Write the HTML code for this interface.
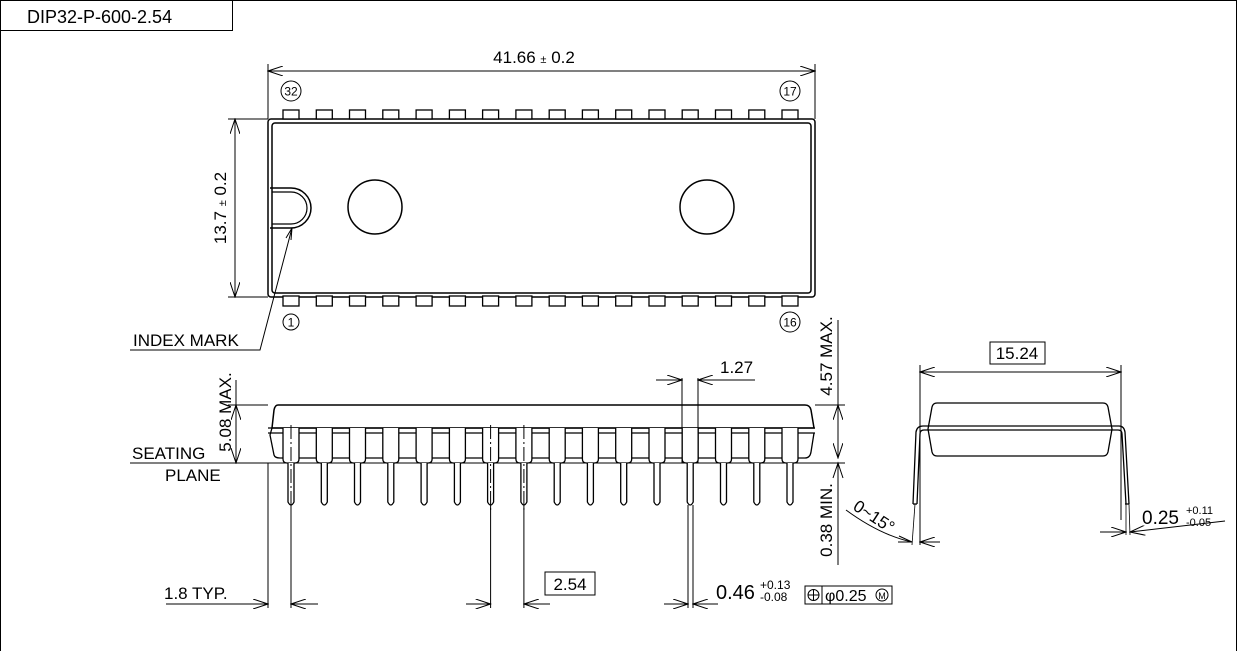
<!DOCTYPE html>
<html><head><meta charset="utf-8"><style>
html,body{margin:0;padding:0;background:#fff}
svg{display:block}
text{font-family:"Liberation Sans",sans-serif;fill:#000}
</style></head><body>
<svg width="1237" height="651" viewBox="0 0 1237 651" xmlns="http://www.w3.org/2000/svg">
<defs>
<marker id="a" markerWidth="16" markerHeight="10" refX="15" refY="5" orient="auto-start-reverse" markerUnits="userSpaceOnUse"><path d="M0,0 L15,5 L0,10" fill="none" stroke="#000" stroke-width="1"/></marker>
<g id="tp"><rect x="-8" y="110" width="16" height="9" fill="#fff" stroke="#000" stroke-width="1.3"/></g>
<g id="bp"><rect x="-8" y="296" width="16" height="10" fill="#fff" stroke="#000" stroke-width="1.3"/></g>
<g id="sp"><path d="M-8,428 V459 Q-8,463 -4,463 H4 Q8,463 8,459 V428" fill="#fff" stroke="#000" stroke-width="1.3"/><path d="M-3,463 V502 Q0,508 3,502 V463" fill="#fff" stroke="#000" stroke-width="1.3"/></g>
</defs>
<rect x="0.5" y="0.5" width="1236" height="660" fill="none" stroke="#000" stroke-width="1"/>
<path d="M0,30.5 H232.5 V0" fill="none" stroke="#000" stroke-width="1"/>
<text x="27" y="23" font-size="18">DIP32-P-600-2.54</text>

<g fill="none" stroke="#000">
<line x1="268" y1="64" x2="268" y2="119" stroke-width="1"/>
<line x1="815" y1="64" x2="815" y2="119" stroke-width="1"/>
<line x1="268" y1="71" x2="815" y2="71" stroke-width="1" marker-start="url(#a)" marker-end="url(#a)"/>
<line x1="228" y1="119" x2="268" y2="119" stroke-width="1"/>
<line x1="228" y1="297" x2="268" y2="297" stroke-width="1"/>
<line x1="235" y1="119" x2="235" y2="297" stroke-width="1" marker-start="url(#a)" marker-end="url(#a)"/>
<rect x="268" y="119" width="547" height="178" rx="3" stroke-width="1.5"/>
<rect x="272" y="123" width="539" height="170" rx="3" stroke-width="1.5"/>
<path d="M270,188 H291 A20,20 0 0 1 291,228 H270" stroke-width="1.5"/>
<path d="M272,192 H291 A16,16 0 0 1 291,224 H272" stroke-width="1.2"/>
<circle cx="375" cy="207" r="27" stroke-width="1.5"/>
<circle cx="707" cy="207" r="27" stroke-width="1.5"/>
<path d="M292,228 L260,350 H130" stroke-width="1"/>
<path d="M292,228 l-1,12 M292,228 l-6,10" stroke-width="1"/>
<circle cx="291" cy="91" r="10" stroke-width="1"/>
<circle cx="790" cy="91" r="10" stroke-width="1"/>
<circle cx="291" cy="322" r="8" stroke-width="1"/>
<circle cx="790" cy="322" r="10" stroke-width="1"/>
</g>
<g>
<use href="#tp" x="291"/><use href="#tp" x="324.3"/><use href="#tp" x="357.5"/><use href="#tp" x="390.8"/><use href="#tp" x="424.1"/><use href="#tp" x="457.4"/><use href="#tp" x="490.6"/><use href="#tp" x="523.9"/><use href="#tp" x="557.2"/><use href="#tp" x="590.4"/><use href="#tp" x="623.7"/><use href="#tp" x="657"/><use href="#tp" x="690.2"/><use href="#tp" x="723.5"/><use href="#tp" x="756.8"/><use href="#tp" x="790"/>
<use href="#bp" x="291"/><use href="#bp" x="324.3"/><use href="#bp" x="357.5"/><use href="#bp" x="390.8"/><use href="#bp" x="424.1"/><use href="#bp" x="457.4"/><use href="#bp" x="490.6"/><use href="#bp" x="523.9"/><use href="#bp" x="557.2"/><use href="#bp" x="590.4"/><use href="#bp" x="623.7"/><use href="#bp" x="657"/><use href="#bp" x="690.2"/><use href="#bp" x="723.5"/><use href="#bp" x="756.8"/><use href="#bp" x="790"/>
</g>
<text x="534" y="63" font-size="17" text-anchor="middle">41.66 <tspan font-size="11">±</tspan> 0.2</text>
<text transform="translate(226,208) rotate(-90)" font-size="17" text-anchor="middle">13.7 <tspan font-size="11">±</tspan> 0.2</text>
<text x="291" y="95.5" font-size="12" text-anchor="middle">32</text>
<text x="790" y="95.5" font-size="12" text-anchor="middle">17</text>
<text x="291" y="326.5" font-size="12" text-anchor="middle">1</text>
<text x="790" y="326.5" font-size="12" text-anchor="middle">16</text>
<text x="133" y="346" font-size="17">INDEX MARK</text>

<g fill="none" stroke="#000">
<path d="M278,405 H805 Q810,405 811,410 L814,428 H272 L274,410 Q275,405 278,405 Z" fill="#fff" stroke-width="1.5"/>
<path d="M268,428 H815 M268,433 H815" stroke-width="1.3"/>
<path d="M272,428 L270,435 L274,455 Q275,458 280,458 H805 Q810,458 811,452 L814,433" stroke-width="1.3"/>
<line x1="130" y1="463" x2="845" y2="463" stroke-width="1"/>
<line x1="228" y1="405" x2="268" y2="405" stroke-width="1"/>
<line x1="236" y1="380" x2="236" y2="405" stroke-width="1"/>
<line x1="236" y1="405" x2="236" y2="463" stroke-width="1" marker-start="url(#a)" marker-end="url(#a)"/>
<line x1="815" y1="405" x2="845" y2="405" stroke-width="1"/>
<line x1="838" y1="405" x2="838" y2="458" stroke-width="1" marker-start="url(#a)" marker-end="url(#a)"/>
<line x1="838" y1="320" x2="838" y2="405" stroke-width="1"/>
<line x1="838" y1="463" x2="838" y2="565" stroke-width="1"/>
<path d="M833,478 L838,463 L843,478" stroke-width="1"/>
</g>
<g>
<use href="#sp" x="291"/><use href="#sp" x="324.3"/><use href="#sp" x="357.5"/><use href="#sp" x="390.8"/><use href="#sp" x="424.1"/><use href="#sp" x="457.4"/><use href="#sp" x="490.6"/><use href="#sp" x="523.9"/><use href="#sp" x="557.2"/><use href="#sp" x="590.4"/><use href="#sp" x="623.7"/><use href="#sp" x="657"/><use href="#sp" x="690.2"/><use href="#sp" x="723.5"/><use href="#sp" x="756.8"/><use href="#sp" x="790"/>
</g>
<g fill="none" stroke="#000" stroke-width="1">
<line x1="291" y1="425" x2="291" y2="512" stroke-dasharray="14,3,2,3"/>
<line x1="490.6" y1="425" x2="490.6" y2="512" stroke-dasharray="14,3,2,3"/>
<line x1="523.9" y1="425" x2="523.9" y2="512" stroke-dasharray="14,3,2,3"/>
<line x1="682" y1="378" x2="682" y2="463"/>
<line x1="698" y1="378" x2="698" y2="463"/>
<line x1="656" y1="380" x2="682" y2="380" marker-end="url(#a)"/>
<line x1="755" y1="380" x2="698" y2="380" marker-end="url(#a)"/>
<line x1="268" y1="463" x2="268" y2="608"/>
<line x1="291" y1="505" x2="291" y2="608"/>
<line x1="166" y1="604" x2="268" y2="604" marker-end="url(#a)"/>
<line x1="318" y1="604" x2="291" y2="604" marker-end="url(#a)"/>
<line x1="490.6" y1="505" x2="490.6" y2="608"/>
<line x1="523.9" y1="505" x2="523.9" y2="608"/>
<line x1="466" y1="604" x2="490.6" y2="604" marker-end="url(#a)"/>
<line x1="550" y1="604" x2="523.9" y2="604" marker-end="url(#a)"/>
<line x1="688" y1="505" x2="688" y2="608"/>
<line x1="693" y1="505" x2="693" y2="608"/>
<line x1="664" y1="604" x2="688" y2="604" marker-end="url(#a)"/>
<line x1="718" y1="604" x2="693" y2="604" marker-end="url(#a)"/>
<rect x="545" y="572" width="50" height="23"/>
<rect x="805" y="586" width="87" height="18"/>
<line x1="822" y1="586" x2="822" y2="604"/>
<circle cx="813.5" cy="595" r="5.5"/>
<path d="M808,595 H819 M813.5,589.5 V600.5"/>
<circle cx="882" cy="595" r="6"/>
</g>
<text transform="translate(231,412) rotate(-90)" font-size="17" text-anchor="middle">5.08 MAX.</text>
<text transform="translate(832,356) rotate(-90)" font-size="17" text-anchor="middle">4.57 MAX.</text>
<text transform="translate(832,520) rotate(-90)" font-size="17" text-anchor="middle">0.38 MIN.</text>
<text x="132" y="459" font-size="17">SEATING</text>
<text x="165" y="481" font-size="17">PLANE</text>
<text x="720" y="373" font-size="17">1.27</text>
<line x1="715" y1="380" x2="755" y2="380" stroke="#000"/>
<text x="164" y="599" font-size="17">1.8 TYP.</text>
<text x="570" y="590" font-size="17" text-anchor="middle">2.54</text>
<text x="716" y="599" font-size="20">0.46</text>
<text x="760" y="589" font-size="12">+0.13</text>
<text x="760" y="601" font-size="12">-0.08</text>
<text x="825" y="601" font-size="16">φ0.25</text>
<text x="882" y="599" font-size="9" text-anchor="middle">M</text>

<g fill="none" stroke="#000">
<line x1="920" y1="365" x2="920" y2="545" stroke-width="1"/>
<line x1="1121" y1="365" x2="1121" y2="520" stroke-width="1"/>
<line x1="920" y1="372" x2="1121" y2="372" stroke-width="1" marker-start="url(#a)" marker-end="url(#a)"/>
<rect x="990" y="342" width="55" height="22" stroke-width="1"/>
<path d="M937,403 H1103 Q1107,403 1108,407 L1112,429 L1108,452 Q1107,456 1103,456 H937 Q933,456 932,452 L928,429 L932,407 Q933,403 937,403 Z" stroke-width="1.3"/>
<path d="M917,504 L920,434 Q920,430 924,430 H1118 Q1122,430 1122,434 L1126,504" stroke-width="1.3"/>
<path d="M913,504 L916,432 Q917,426 923,426 H1119 Q1124,426 1125,432 L1129,504" stroke-width="1.3"/>
<line x1="913" y1="504" x2="917" y2="504" stroke-width="1.3"/>
<line x1="1125" y1="504" x2="1129" y2="504" stroke-width="1.3"/>
<line x1="915" y1="504" x2="912" y2="545" stroke-width="0.8"/>
<line x1="1126" y1="504" x2="1126" y2="535" stroke-width="0.8"/>
<line x1="1129" y1="504" x2="1130" y2="535" stroke-width="0.8"/>
<path d="M846,510 Q880,535 912,542" stroke-width="1"/>
<path d="M899,536 L912,542 L898,542" stroke-width="1"/>
<line x1="940" y1="542" x2="920" y2="542" stroke-width="1" marker-end="url(#a)"/>
<line x1="1100" y1="532" x2="1126" y2="532" stroke-width="1" marker-end="url(#a)"/>
<line x1="1225" y1="521" x2="1130" y2="532" stroke-width="1" marker-end="url(#a)"/>
</g>
<text x="1017" y="359" font-size="17" text-anchor="middle">15.24</text>
<text transform="translate(852,509) rotate(33)" font-size="17">0~15°</text>
<text x="1142" y="524" font-size="19">0.25</text>
<text x="1186" y="514" font-size="11">+0.11</text>
<text x="1186" y="526" font-size="11">-0.05</text>
</svg>
</body></html>
